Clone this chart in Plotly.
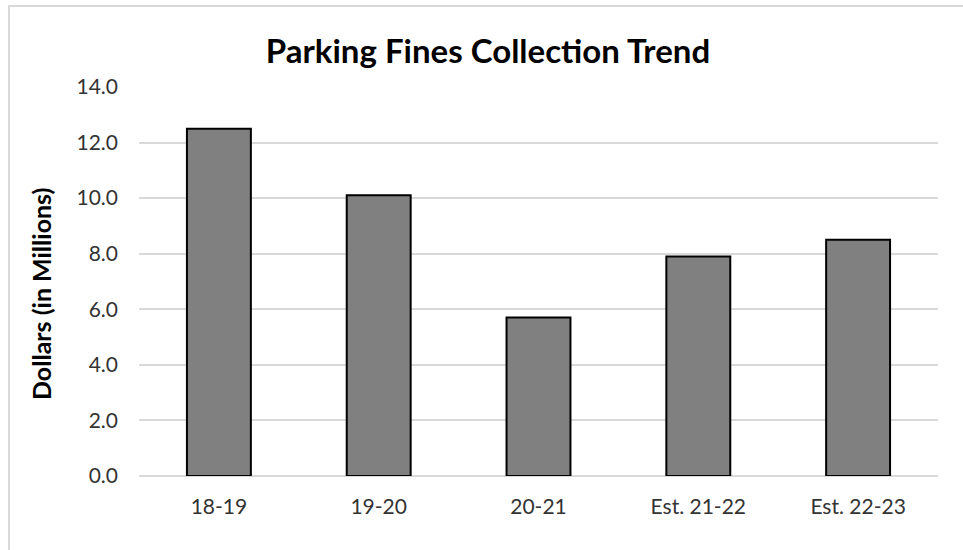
import plotly.graph_objects as go

categories = ["18-19", "19-20", "20-21", "Est. 21-22", "Est. 22-23"]
values = [12.5, 10.1, 5.7, 7.9, 8.5]
y_ticks = [0, 2, 4, 6, 8, 10, 12, 14]

W, H = 963, 550
L, R, T, B = 139, 25, 87, 74
pw, ph = W - L - R, H - T - B

def px_x(px):
    return (px - L) / pw

def px_y(py):
    return (H - B - py) / ph

fig = go.Figure()
fig.add_trace(go.Bar(
    x=categories, y=values,
    marker=dict(color="#808080", line=dict(color="#000000", width=2)),
    width=0.4,
))

font = "Lato, Open Sans, sans-serif"
fig.update_layout(
    width=W, height=H,
    margin=dict(l=L, r=R, t=T, b=B),
    paper_bgcolor="white", plot_bgcolor="white",
    showlegend=False,
    title=dict(text="<b>Parking Fines Collection Trend</b>", x=px_x(488), xref="paper",
               xanchor="center", y=1 - 51 / H, yanchor="middle", yref="container",
               font=dict(family=font, size=33, color="#000000")),
    xaxis=dict(showgrid=False, showline=False, ticks="", tickfont=dict(family=font, size=21, color="#333333"),
               ticklabelstandoff=16),
    yaxis=dict(range=[0, 14], tickvals=y_ticks, tickformat=".1f", showgrid=True, gridcolor="#d9d9d9",
               gridwidth=1.5, zeroline=True, zerolinecolor="#d9d9d9", zerolinewidth=1.5, showline=False,
               ticks="", tickfont=dict(family=font, size=21, color="#333333"), ticklabelstandoff=20),
    annotations=[dict(text="<b>Dollars (in Millions)</b>", xref="paper", yref="paper",
                      x=px_x(41), y=px_y(294), xanchor="center", yanchor="middle", textangle=-90,
                      showarrow=False, font=dict(family=font, size=25, color="#000000"))],
    shapes=[dict(type="rect", xref="paper", yref="paper", x0=px_x(9), x1=px_x(975), y0=px_y(570), y1=px_y(6),
                 line=dict(color="#d9d9d9", width=2), fillcolor="rgba(0,0,0,0)", layer="below")],
)

fig.write_html("out.html")
